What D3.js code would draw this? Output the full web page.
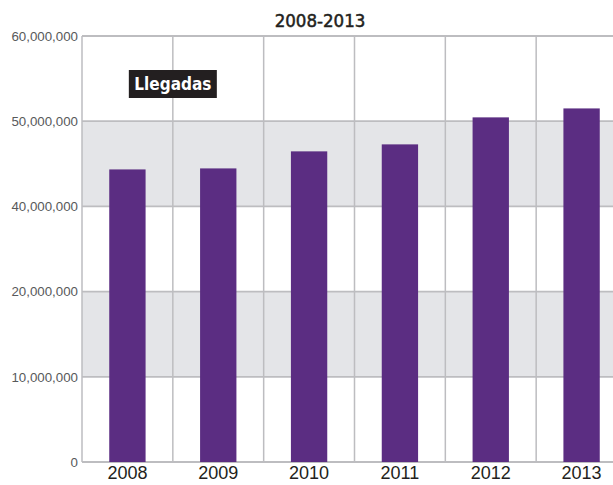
<!DOCTYPE html>
<html>
<head>
<meta charset="utf-8">
<script src="https://cdn.jsdelivr.net/npm/d3@7"></script>
<style>
  body { margin: 0; background: #fff; }
  svg { display: block; font-family: "Liberation Sans Narrow", "DejaVu Sans Condensed", "Roboto", sans-serif; }
</style>
</head>
<body>
<div id="chart"></div>
<script>
const years = ['2008', '2009', '2010', '2011', '2012', '2013'];
const arrivals = [44340000, 44460000, 46460000, 47280000, 50450000, 51500000];
const yTicks = [0, 10000000, 20000000, 40000000, 50000000, 60000000];
const shadedBands = [[10000000, 20000000], [40000000, 50000000]];
const subtitle = '2008-2013';
const legendLabel = 'Llegadas';

const width = 613;
const height = 485;
const margin = { top: 36, right: -14, bottom: 23, left: 82 };
const innerWidth = width - margin.left - margin.right;
const innerHeight = height - margin.top - margin.bottom;

const svg = d3.select('#chart').append('svg')
  .attr('width', width).attr('height', height);
const g = svg.append('g').attr('transform', `translate(${margin.left},${margin.top})`);

// the axis skips 30M: 20M->40M takes one step, so use a piecewise scale
const step = innerHeight / 5;
const y = d3.scaleLinear()
  .domain([0, 20000000, 40000000, 60000000])
  .range([innerHeight, innerHeight - 2 * step, innerHeight - 3 * step, 0]);
const x = d3.scaleBand().domain(years).range([0, innerWidth]).padding(0);

// shaded bands
g.append('g').selectAll('rect').data(shadedBands).join('rect')
  .attr('x', 0).attr('width', innerWidth)
  .attr('y', (d) => y(d[1]))
  .attr('height', (d) => y(d[0]) - y(d[1]))
  .attr('fill', '#e4e5e8');

// grid lines
const gridColor = '#bdbdc0';
g.append('g').selectAll('line').data(yTicks).join('line')
  .attr('x1', 0).attr('x2', innerWidth)
  .attr('y1', (d) => y(d)).attr('y2', (d) => y(d))
  .attr('stroke', gridColor).attr('stroke-width', 1.8);
g.append('g').selectAll('line').data(years).join('line')
  .attr('x1', (d) => x(d)).attr('x2', (d) => x(d))
  .attr('y1', 0).attr('y2', innerHeight)
  .attr('stroke', gridColor).attr('stroke-width', 1.5);

// bars
const barWidth = x.bandwidth() * 0.4;
g.append('g').selectAll('rect').data(years).join('rect')
  .attr('x', (d) => x(d) + (x.bandwidth() - barWidth) / 2)
  .attr('width', barWidth)
  .attr('y', (d, i) => y(arrivals[i]))
  .attr('height', (d, i) => innerHeight - y(arrivals[i]))
  .attr('fill', '#5b2d82');

// y axis labels
const yAxis = g.append('g')
  .call(d3.axisLeft(y).tickValues(yTicks).tickSize(0).tickPadding(4).tickFormat(d3.format(',')));
yAxis.select('.domain').remove();
yAxis.selectAll('text').attr('font-size', 13.3).attr('fill', '#58595b').attr('font-family', null);

// x axis labels
const xAxis = g.append('g').attr('transform', `translate(0,${innerHeight})`)
  .call(d3.axisBottom(x).tickSize(0).tickPadding(4));
xAxis.select('.domain').remove();
xAxis.selectAll('text').attr('font-size', 18).attr('fill', '#231f20').attr('font-family', null);

// subtitle
svg.append('text')
  .attr('x', 320).attr('y', 27)
  .attr('text-anchor', 'middle')
  .attr('font-size', 18.5).attr('fill', '#231f20')
  .attr('stroke', '#231f20').attr('stroke-width', 0.5)
  .text(subtitle);

// legend tag
const legend = svg.append('g').attr('transform', `translate(${margin.left + x('2009')},${84})`);
legend.append('rect')
  .attr('x', -44).attr('y', -14).attr('width', 88).attr('height', 28)
  .attr('fill', '#231f20');
legend.append('text')
  .attr('text-anchor', 'middle').attr('dy', '0.36em')
  .attr('font-size', 17).attr('font-weight', 'bold').attr('fill', '#fff')
  .text(legendLabel);
</script>
</body>
</html>
